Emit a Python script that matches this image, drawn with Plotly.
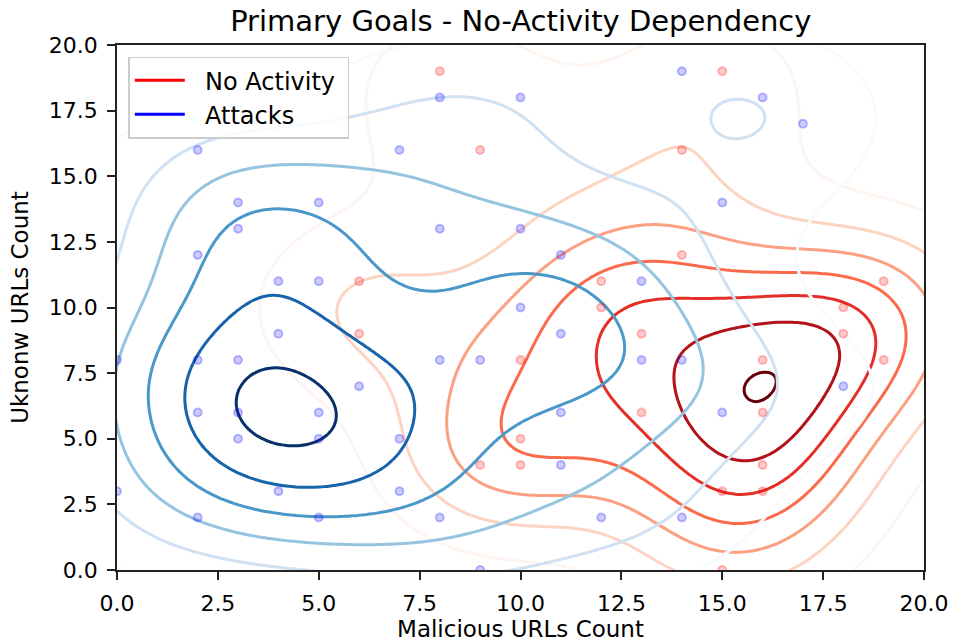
import numpy as np
import plotly.graph_objects as go

# Observations: (malicious URLs, unknown URLs) per session
attack_x = [2, 3, 5, 3, 2, 4, 5, 8, 10, 7, 8, 10, 11, 13, 10, 14, 16, 17, 15,
            4, 0, 2, 3, 6, 2, 3, 5, 3, 5, 0, 4, 2, 5,
            11, 8, 9, 13, 11, 7, 11, 7, 8, 12, 9, 14, 18, 15, 14]
attack_y = [16, 14, 14, 13, 12, 11, 11, 18, 18, 16, 13, 13, 12, 11, 10, 19, 18, 17, 14,
            9, 8, 8, 8, 7, 6, 6, 6, 5, 5, 3, 3, 2, 2,
            9, 8, 8, 8, 6, 5, 4, 3, 2, 2, 0, 8, 7, 6, 2]

noact_x = [6, 8, 9, 12, 15, 14, 14, 19, 18, 6, 12, 13, 10, 13, 10, 9, 10,
           18, 16, 19, 16, 16, 15, 16, 15]
noact_y = [11, 19, 16, 11, 19, 16, 12, 11, 10, 9, 10, 9, 8, 6, 5, 4, 4,
           9, 8, 8, 6, 4, 3, 3, 0]
# sessions sharing each (x, y) position
noact_n = [1, 1, 1, 1, 1, 1, 1, 1, 1, 1, 1, 1, 1, 1, 1, 1, 1,
           1, 2, 1, 2, 1, 1, 1, 1]

REDS = ["#fff5f0", "#fee0d2", "#fcbba1", "#fc9272", "#fb6a4a",
        "#ef3b2c", "#cb181d", "#a50f15", "#67000d"]
BLUES = ["#f7fbff", "#deebf7", "#c6dbef", "#9ecae1", "#6baed6",
         "#4292c6", "#2171b5", "#08519c", "#08306b"]


def scott_bw(v):
    v = np.asarray(v, float)
    sd = v.std(ddof=1)
    iqr = np.subtract(*np.percentile(v, [75, 25]))
    a = min(sd, iqr / 1.349) if iqr > 0 else sd
    return 1.059 * a * len(v) ** (-0.2)


def kde_grid(xs, ys, gx, gy, counts=None):
    """Weighted Gaussian KDE; bandwidth taken from the distinct positions."""
    xs = np.asarray(xs, float)
    ys = np.asarray(ys, float)
    w = np.ones_like(xs) if counts is None else np.asarray(counts, float)
    bx, by = scott_bw(xs), scott_bw(ys)
    kx = np.exp(-0.5 * ((gx[None, :] - xs[:, None]) / bx) ** 2) / (bx * np.sqrt(2 * np.pi))
    ky = np.exp(-0.5 * ((gy[None, :] - ys[:, None]) / by) ** 2) / (by * np.sqrt(2 * np.pi))
    return (ky * w[:, None]).T @ kx / w.sum()


def scale_of(colors):
    n = len(colors) - 1
    return [[i / n, c] for i, c in enumerate(colors)]


gx = np.linspace(-4, 24, 240)
gy = np.linspace(-4, 24, 240)

fig = go.Figure()

# (x, y, counts, colormap, number of contour levels, headroom above top level)
layers = [
    (noact_x, noact_y, noact_n, REDS, 7, 0.05),
    (attack_x, attack_y, None, BLUES, 6, 0.3),
]
for xs, ys, cnt, cols, n_lv, head in layers:
    z = kde_grid(xs, ys, gx, gy, cnt)
    step = z.max() / (n_lv + head)
    fig.add_trace(go.Contour(
        x=gx, y=gy, z=z,
        autocontour=False,
        contours=dict(coloring="lines", start=step, end=step * n_lv, size=step),
        colorscale=scale_of(cols), showscale=False,
        line=dict(width=3, smoothing=1.0),
        hoverinfo="skip", showlegend=False,
    ))

fig.add_trace(go.Scatter(
    x=noact_x, y=noact_y, mode="markers", showlegend=False, hoverinfo="skip",
    marker=dict(size=8, color="rgba(255,0,0,0.2)",
                line=dict(color="rgba(255,0,0,0.25)", width=2)),
))
fig.add_trace(go.Scatter(
    x=attack_x, y=attack_y, mode="markers", showlegend=False, hoverinfo="skip",
    marker=dict(size=8, color="rgba(0,0,255,0.2)",
                line=dict(color="rgba(0,0,255,0.25)", width=2)),
))

# legend handles
fig.add_trace(go.Scatter(x=[None], y=[None], mode="lines", name="\u00a0\u00a0No Activity\u00a0",
                         line=dict(color="red", width=3)))
fig.add_trace(go.Scatter(x=[None], y=[None], mode="lines", name="\u00a0\u00a0Attacks",
                         line=dict(color="blue", width=3)))

ticks = [i * 2.5 for i in range(9)]
tick_text = ["%.1f" % t for t in ticks]

axis_common = dict(
    range=[0, 20], tickvals=ticks, ticktext=tick_text, automargin=False,
    showgrid=False, zeroline=False, showline=True, mirror=True,
    linecolor="#222222", linewidth=1.5, ticks="outside", ticklen=8,
    tickwidth=1.5, tickcolor="#222222", ticklabelstandoff=5,
    tickfont=dict(size=22, color="black"),
)

fig.update_layout(
    width=953, height=643,
    margin=dict(l=117, r=29, t=45, b=73),
    paper_bgcolor="white", plot_bgcolor="white",
    font=dict(family="DejaVu Sans", color="black"),
    title=dict(text="Primary Goals - No-Activity Dependency", x=0.5465, xanchor="center",
               y=0.967, yanchor="middle", font=dict(size=29)),
    xaxis=dict(axis_common, title=dict(text="Malicious URLs Count", font=dict(size=23), standoff=4)),
    yaxis=dict(axis_common, title=dict(text="Uknonw URLs Count", font=dict(size=23), standoff=14)),
    legend=dict(x=0.014, y=0.978, xanchor="left", yanchor="top", itemwidth=50,
                bgcolor="rgba(255,255,255,0.85)", bordercolor="#cccccc", borderwidth=1.5,
                font=dict(size=24)),
)

fig.write_html("out.html")
